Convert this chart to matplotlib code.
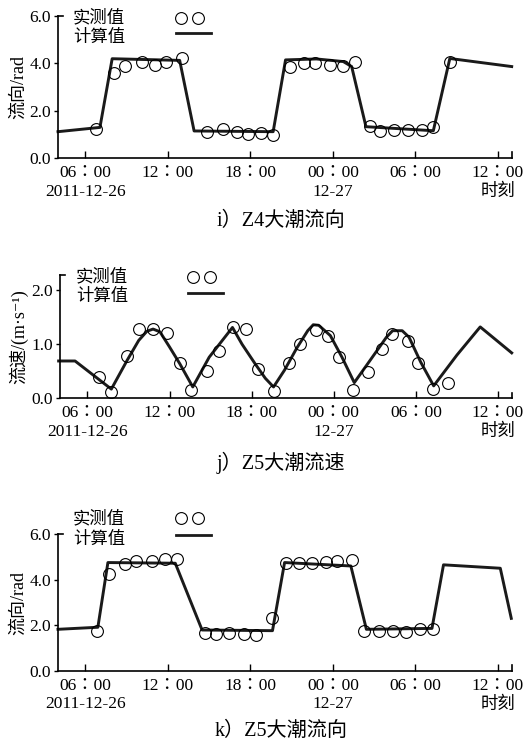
import numpy as np
import matplotlib
matplotlib.use("Agg")
import matplotlib.pyplot as plt

plt.rcParams['font.family'] = ['Liberation Serif', 'Noto Sans CJK SC', 'DejaVu Serif']

# hours since 2011-12-26 00:00
tick_hours = [6, 12, 18, 24, 30, 36]
tick_labels = ["06：00\n2011-12-26", "12：00", "18：00", "00：00\n12-27", "06：00", "12：00\n时刻"]

# i) Z4 flow direction
z4dir_calc_t = [4.0, 7.05, 7.94, 12.85, 13.9, 19.65, 20.55, 22.8, 24.75, 25.36, 26.4, 31.3, 32.5, 37.0]
z4dir_calc_v = [1.12, 1.30, 4.19, 4.12, 1.15, 1.12, 4.14, 4.18, 4.07, 3.86, 1.33, 1.16, 4.2, 3.86]
z4dir_obs_t = [6.78, 8.06, 8.9, 10.1, 11.05, 11.88, 13.0, 14.87, 16.03, 17.0, 17.85, 18.8, 19.65,
               20.9, 21.86, 22.7, 23.78, 24.75, 25.6, 26.7, 27.4, 28.47, 29.44, 30.46, 31.3, 32.5]
z4dir_obs_v = [1.22, 3.6, 3.88, 4.07, 3.93, 4.07, 4.24, 1.11, 1.25, 1.11, 1.02, 1.08, 0.98,
               3.86, 4.03, 4.0, 3.93, 3.9, 4.07, 1.36, 1.16, 1.19, 1.19, 1.19, 1.3, 4.07]

# j) Z5 flow speed
z5spd_calc_t = [3.9, 5.1, 7.75, 8.9, 9.75, 10.35, 10.8, 11.3, 12.0, 12.75, 13.7, 14.9, 16.6, 17.3,
                18.25, 19.0, 19.6, 20.4, 21.3, 22.1, 22.5, 22.9, 23.75, 24.6, 25.5, 26.65, 27.85,
                28.3, 29.0, 29.5, 30.35, 31.3, 33.0, 34.7, 37.0]
z5spd_calc_v = [0.69, 0.69, 0.17, 0.70, 1.07, 1.24, 1.28, 1.23, 0.95, 0.64, 0.21, 0.76, 1.31, 1.0,
                0.64, 0.37, 0.21, 0.52, 0.93, 1.25, 1.36, 1.35, 1.16, 0.76, 0.29, 0.70, 1.13,
                1.25, 1.25, 1.13, 0.67, 0.23, 0.80, 1.32, 0.84]
z5spd_obs_t = [6.85, 7.7, 8.9, 9.76, 10.8, 11.82, 12.75, 13.57, 14.74, 15.64, 16.64, 17.58, 18.5,
               19.6, 20.74, 21.54, 22.68, 23.6, 24.4, 25.4, 26.5, 27.56, 28.27, 29.4, 30.17, 31.27, 32.36]
z5spd_obs_v = [0.40, 0.12, 0.78, 1.29, 1.29, 1.20, 0.65, 0.15, 0.51, 0.88, 1.32, 1.29, 0.55,
               0.14, 0.65, 1.00, 1.26, 1.16, 0.77, 0.15, 0.49, 0.92, 1.18, 1.06, 0.65, 0.17, 0.28]

# k) Z5 flow direction
z5dir_calc_t = [4.0, 6.9, 7.63, 12.53, 14.48, 19.6, 20.48, 25.3, 26.43, 31.2, 32.04, 36.17, 36.97]
z5dir_calc_v = [1.83, 1.92, 4.76, 4.73, 1.80, 1.77, 4.76, 4.61, 1.83, 1.87, 4.66, 4.51, 2.31]
z5dir_obs_t = [6.85, 7.7, 8.84, 9.7, 10.86, 11.76, 12.66, 14.7, 15.5, 16.42, 17.5, 18.43, 19.53,
               20.55, 21.55, 22.5, 23.46, 24.27, 25.4, 26.28, 27.35, 28.35, 29.3, 30.34, 31.24]
z5dir_obs_v = [1.76, 4.26, 4.69, 4.85, 4.85, 4.91, 4.91, 1.68, 1.61, 1.65, 1.61, 1.59, 2.34,
               4.73, 4.76, 4.76, 4.80, 4.83, 4.88, 1.76, 1.76, 1.76, 1.73, 1.83, 1.85]

W, H = 530, 744
fig = plt.figure(figsize=(W / 100, H / 100), dpi=100)


def px_axes(left, right, top, bottom):
    return fig.add_axes([left / W, 1 - bottom / H, (right - left) / W, (bottom - top) / H])


def style(ax, ylim, yticks, ylabel):
    ax.set_xlim(4, 37)
    ax.set_ylim(*ylim)
    for s in ['top', 'right']:
        ax.spines[s].set_visible(False)
    for s in ['left', 'bottom']:
        ax.spines[s].set_linewidth(1.2)
    ax.set_xticks(tick_hours)
    # TC glyphs put the full-width colon in the middle, as in the print
    ax.set_xticklabels(tick_labels, fontsize=12.5, linespacing=1.2,
                       family=['Liberation Serif', 'Noto Sans CJK TC'])
    ax.set_yticks(yticks)
    ax.set_yticklabels(["%.1f" % v for v in yticks], fontsize=12.5)
    ax.tick_params(axis='x', direction='in', length=5, width=1.0, pad=5)
    ax.tick_params(axis='y', direction='out', length=3, width=1.0, pad=2)
    # caps at axis ends
    ax.plot([0, 0.012], [1, 1], color='black', lw=1.2, transform=ax.transAxes, clip_on=False)
    ax.plot([1, 1], [0, 0.045], color='black', lw=1.2, transform=ax.transAxes, clip_on=False)
    ax.set_ylabel(ylabel, fontsize=13, labelpad=2)


def legend(x0, y_obs, y_calc, mx, my_obs, my_line):
    fig.text(x0 / W, 1 - y_obs / H, "实测值", fontsize=12.5, va='center', ha='left')
    fig.text(x0 / W, 1 - y_calc / H, "计算值", fontsize=12.5, va='center', ha='left')
    fig.lines.append(plt.Line2D([mx / W, (mx + 17) / W], [1 - my_obs / H] * 2, ls='none', marker='o',
                                ms=8.5, mfc='white', mec='black', mew=0.8, transform=fig.transFigure))
    fig.lines.append(plt.Line2D([(mx - 5) / W, (mx + 30) / W], [1 - my_line / H] * 2, color='#1a1a1a',
                                lw=2.0, transform=fig.transFigure))


def draw(ax, ct, cv, ot, ov):
    ax.plot(ct, cv, color='#1a1a1a', lw=2.1, zorder=2, clip_on=False)
    ax.plot(ot, ov, ls='none', marker='o', ms=8.5, mfc='none', mec='black', mew=0.8, zorder=3, clip_on=False)


ax1 = px_axes(58, 511.7, 15.7, 158.3)
draw(ax1, z4dir_calc_t, z4dir_calc_v, z4dir_obs_t, z4dir_obs_v)
style(ax1, (0, 6), [0, 2, 4, 6], "流向/rad")
legend(73, 18, 38, 181, 18, 33)
fig.text(0.53, 1 - 221 / H, "i）Z4大潮流向", fontsize=14.5, ha='center', va='center')

ax2 = px_axes(60, 511.7, 275, 398.3)
draw(ax2, z5spd_calc_t, z5spd_calc_v, z5spd_obs_t, z5spd_obs_v)
style(ax2, (0, 2.28), [0, 1, 2], "流速/(m·s⁻¹)")
legend(76, 277, 297, 193, 277, 293)
fig.text(0.53, 1 - 463 / H, "j）Z5大潮流速", fontsize=14.5, ha='center', va='center')

ax3 = px_axes(58, 511.7, 534.3, 671)
draw(ax3, z5dir_calc_t, z5dir_calc_v, z5dir_obs_t, z5dir_obs_v)
style(ax3, (0, 6), [0, 2, 4, 6], "流向/rad")
legend(73, 519, 540, 181, 518, 535)
fig.text(0.53, 1 - 731 / H, "k）Z5大潮流向", fontsize=14.5, ha='center', va='center')

fig.savefig("out.png", dpi=100)
